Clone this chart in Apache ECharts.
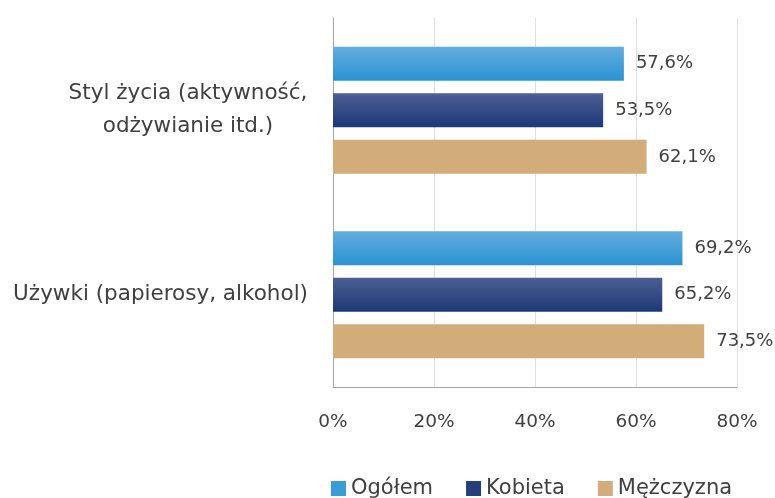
<!DOCTYPE html>
<html>
<head>
<meta charset="utf-8">
<script src="https://cdn.jsdelivr.net/npm/echarts@6/dist/echarts.min.js"></script>
<style>
  html, body { margin: 0; padding: 0; background: #fff; }
  #chart { width: 775px; height: 498px; }
</style>
</head>
<body>
<div id="chart"></div>
<script>
// kategorie (od góry)
var categories = ['Styl życia (aktywność,\nodżywianie itd.)', 'Używki (papierosy, alkohol)']
var seriesNames = ['Ogółem', 'Kobieta', 'Mężczyzna']
var ogolem = [57.6, 69.2]
var kobieta = [53.5, 65.2]
var mezczyzna = [62.1, 73.5]
var xTicks = [0, 20, 40, 60, 80]

var FONT = 'DejaVu Sans'
var chart = echarts.init(document.getElementById('chart'))

function grad(top, bottom) {
  return new echarts.graphic.LinearGradient(0, 0, 0, 1, [
    { offset: 0, color: top },
    { offset: 1, color: bottom }
  ])
}

var colors = [grad('#66ade0', '#2a93d1'), grad('#4d5f92', '#1c3877'), '#d2ad7a']
var legendColors = ['#3a9dd8', '#253f7d', '#d2ad7a']
var values = [ogolem, kobieta, mezczyzna]

var series = seriesNames.map(function (name, i) {
  return {
    name: name,
    type: 'bar',
    data: values[i],
    barWidth: 34,
    barGap: '37%',
    itemStyle: { color: colors[i] },
    label: {
      show: true,
      position: 'right',
      distance: 12,
      color: '#404040',
      fontFamily: FONT,
      fontSize: 18,
      formatter: function (p) { return String(p.value.toFixed(1)).replace('.', ',') + '%' }
    }
  }
})

var option = {
  animation: false,
  textStyle: { fontFamily: FONT },
  grid: { left: 333, right: 38, top: 18, bottom: 111, containLabel: false },
  legend: {
    top: 478,
    left: 331,
    padding: 0,
    itemWidth: 15,
    itemHeight: 15,
    itemGap: 33,
    textStyle: { color: '#404040', fontSize: 21, fontFamily: FONT },
    data: seriesNames.map(function (n, i) {
      return { name: n, icon: 'rect', itemStyle: { color: legendColors[i] } }
    })
  },
  xAxis: {
    type: 'value',
    min: xTicks[0],
    max: xTicks[xTicks.length - 1],
    interval: 20,
    axisLine: { show: true, lineStyle: { color: '#a6a6a6', width: 1 } },
    axisTick: { show: false },
    splitLine: { show: true, lineStyle: { color: '#e0e0e0', width: 1 } },
    axisLabel: {
      margin: 26,
      color: '#404040',
      fontSize: 18.5,
      fontFamily: FONT,
      formatter: function (v) { return v + '%' }
    }
  },
  yAxis: {
    type: 'category',
    inverse: true,
    data: categories,
    axisLine: { show: true, lineStyle: { color: '#a6a6a6', width: 1 } },
    axisTick: { show: false },
    axisLabel: {
      margin: 25,
      color: '#404040',
      fontSize: 21.5,
      fontFamily: FONT,
      lineHeight: 33,
      formatter: function (v) {
        var lines = v.split('\n')
        if (lines.length === 1) return v
        return lines.map(function (l) { return '{c|' + l + '}' }).join('\n')
      },
      rich: {
        c: { width: 240, align: 'center', fontSize: 21.5, lineHeight: 33, color: '#404040', fontFamily: FONT }
      }
    }
  },
  series: series
}

chart.setOption(option)
</script>
</body>
</html>
